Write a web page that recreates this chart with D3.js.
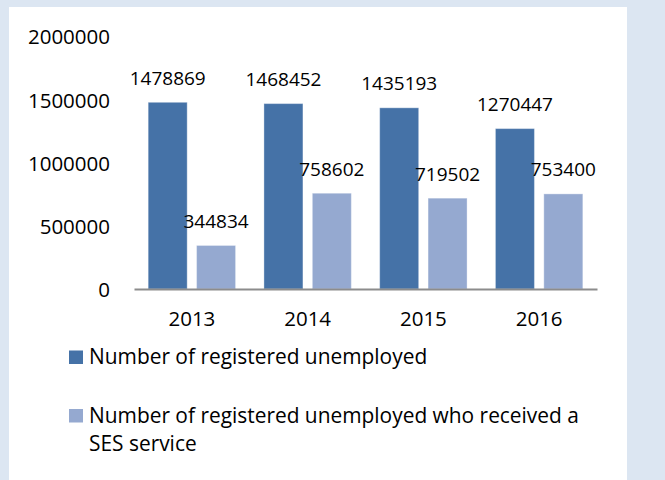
<!DOCTYPE html>
<html>
<head>
<meta charset="utf-8">
<script src="https://cdn.jsdelivr.net/npm/d3@7"></script>
<style>
  html, body { margin: 0; padding: 0; background: #dce6f2; }
  svg { display: block; }
  text { font-family: "Open Sans", "Noto Sans", sans-serif; fill: #000; }
</style>
</head>
<body>
<svg id="chart" width="665" height="480"></svg>
<script>
// Registered unemployed per year, and those who received a SES service
const years = ["2013", "2014", "2015", "2016"];
const seriesNames = [
  "Number of registered unemployed",
  "Number of registered unemployed who received a SES service"
];
const registered = [1478869, 1468452, 1435193, 1270447];
const receivedService = [344834, 758602, 719502, 753400];
const yTicks = [0, 500000, 1000000, 1500000, 2000000];
const colors = ["#4572a7", "#95a9d0"];

const svg = d3.select("#chart");

// white chart area
svg.append("rect")
  .attr("x", 9).attr("y", 7)
  .attr("width", 618).attr("height", 480)
  .attr("fill", "#ffffff");

const x0 = d3.scaleBand().domain(years).range([134, 597]).paddingInner(0).paddingOuter(0);
const x1 = d3.scaleBand().domain(d3.range(seriesNames.length))
  .range([0, x0.bandwidth()]).paddingInner(0.194).paddingOuter(0.293);
const y = d3.scaleLinear().domain([0, 2000000]).range([289, 36.5]);

const rows = years.map((yr, i) => ({
  year: yr,
  values: [registered[i], receivedService[i]]
}));

// y axis labels only
const yAxis = svg.append("g")
  .attr("transform", "translate(110,0)")
  .call(d3.axisLeft(y).tickValues(yTicks).tickFormat(d3.format("d")).tickSize(0).tickPadding(0));
yAxis.select(".domain").remove();
yAxis.selectAll("text")
  .style("font-family", "'Open Sans', sans-serif")
  .style("font-size", "20.5px")
  .attr("fill", "#000")
  .attr("dy", "0.36em");

// bars
const groups = svg.append("g").selectAll("g")
  .data(rows).join("g")
  .attr("transform", d => `translate(${x0(d.year)},0)`);

groups.selectAll("rect")
  .data(d => d.values.map((v, k) => ({ v, k })))
  .join("rect")
  .attr("x", d => x1(d.k))
  .attr("y", d => y(d.v))
  .attr("width", x1.bandwidth())
  .attr("height", d => y(0) - y(d.v))
  .attr("fill", d => colors[d.k])
  .attr("stroke", "#ffffff")
  .attr("stroke-opacity", 0.35)
  .attr("stroke-width", 1);

// value labels above bars
groups.selectAll("text.val")
  .data(d => d.values.map((v, k) => ({ v, k })))
  .join("text")
  .attr("class", "val")
  .attr("x", d => x1(d.k) + x1.bandwidth() / 2)
  .attr("y", d => y(d.v) - 17.5)
  .attr("text-anchor", "middle")
  .style("font-size", "19px")
  .text(d => d.v);

// x axis
const xAxis = svg.append("g")
  .attr("transform", `translate(0,${y(0)})`)
  .call(d3.axisBottom(x0).tickSize(0));
xAxis.select(".domain")
  .attr("stroke", "#8c8c8c")
  .attr("stroke-width", 2);
xAxis.selectAll("text")
  .style("font-family", "'Open Sans', sans-serif")
  .style("font-size", "20.5px")
  .attr("fill", "#000")
  .attr("y", 37)
  .attr("dy", 0);

// legend
const legendTop = [350.5, 409];
const legend = svg.append("g").selectAll("g")
  .data(seriesNames).join("g")
  .attr("transform", (d, i) => `translate(69,${legendTop[i]})`);

legend.append("rect")
  .attr("width", 14).attr("height", 13.5)
  .attr("fill", (d, i) => colors[i]);

legend.append("text")
  .attr("x", 20)
  .attr("y", 13.5)
  .style("font-size", "20.9px")
  .each(function (d) {
    // wrap long legend entries onto extra lines
    const t = d3.select(this);
    const words = d.split(" ");
    const maxW = 515;
    let line = [];
    let tspan = t.append("tspan").attr("x", 20).attr("dy", 0);
    words.forEach(w => {
      line.push(w);
      tspan.text(line.join(" "));
      if (tspan.node().getComputedTextLength() > maxW && line.length > 1) {
        line.pop();
        tspan.text(line.join(" "));
        line = [w];
        tspan = t.append("tspan").attr("x", 20).attr("dy", 28).text(w);
      }
    });
  });
</script>
</body>
</html>
